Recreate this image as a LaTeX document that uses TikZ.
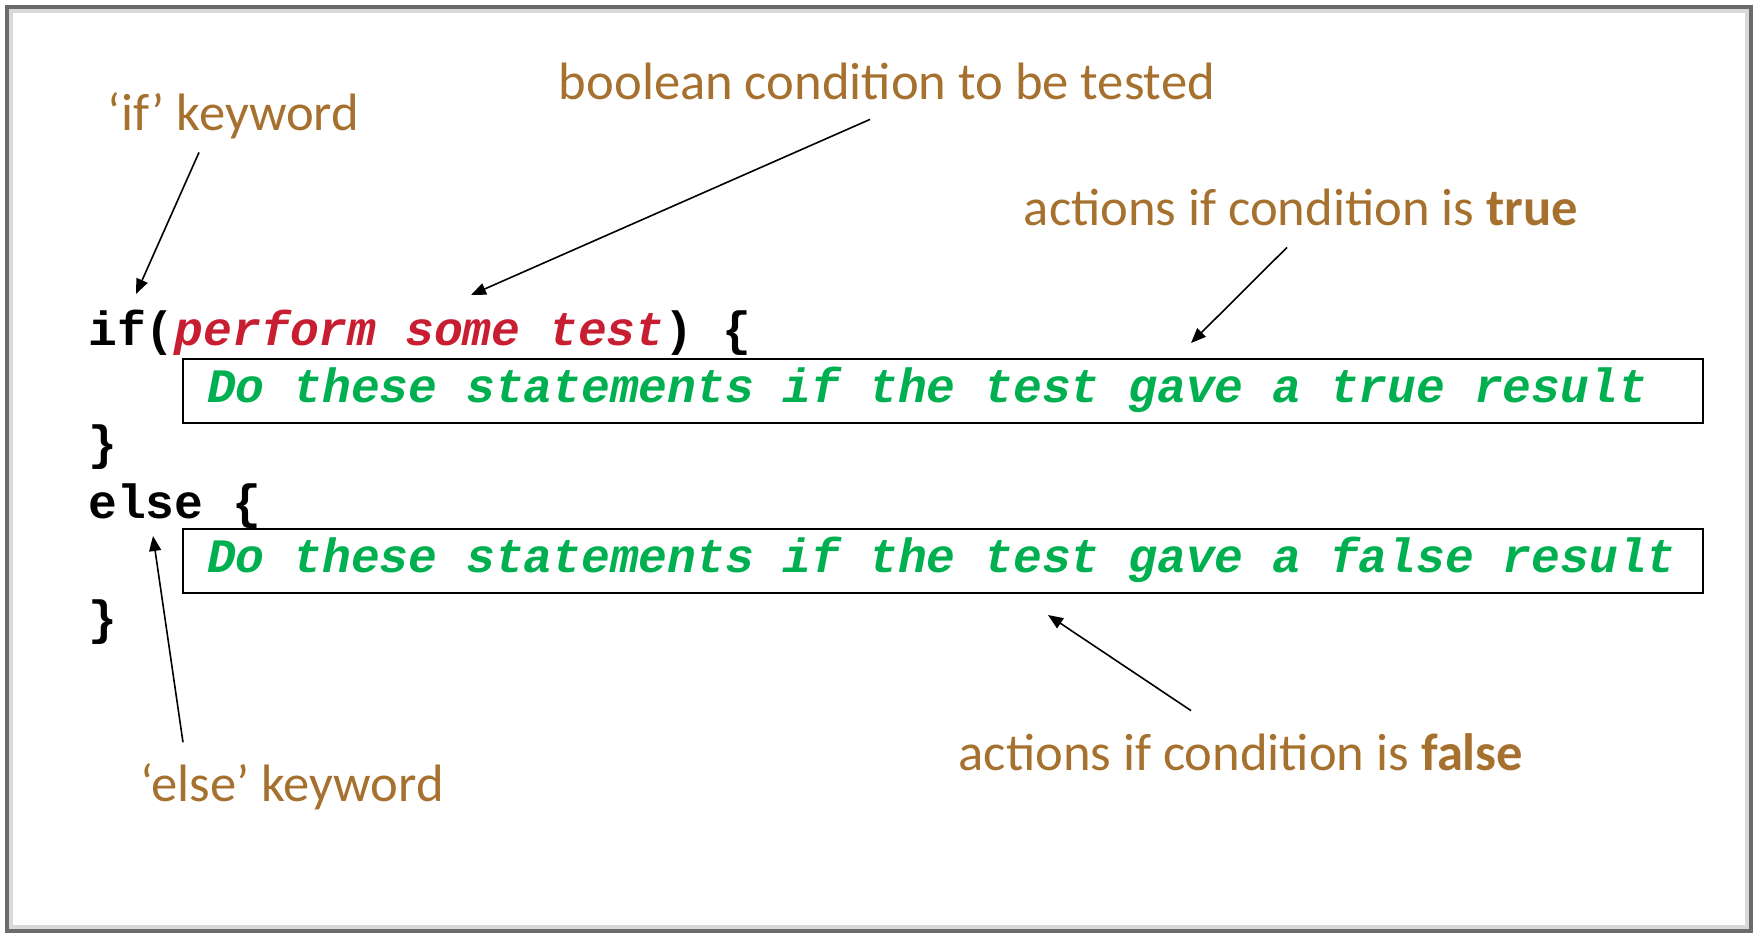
\documentclass[tikz,border=0pt]{standalone}
\usepackage{fontspec}
\usetikzlibrary{arrows.meta}
\newfontfamily\lblfont{Carlito}
\newfontfamily\srcfont{Liberation Mono}
\definecolor{Kw}{HTML}{A6712F}
\definecolor{Cond}{HTML}{C81E32}
\definecolor{Stmt}{HTML}{00B050}
\definecolor{Edge}{HTML}{6B6B6B}
\definecolor{Shade}{HTML}{D9D9D9}
\newcommand{\stmtline}[1]{\makebox[736pt][l]{#1}}
\tikzset{
  lbl/.style={text=Kw, font=\lblfont\fontsize{26.3}{30}\selectfont, inner sep=0pt, text height=20pt, text depth=6pt, anchor=base},
  src/.style={font=\srcfont\bfseries\fontsize{24}{28}\selectfont, inner sep=0pt, anchor=base west},
  stmtbox/.style={draw, line width=1pt, outer sep=0pt, inner xsep=12pt, inner ysep=0pt,
    text height=21.5pt, text depth=10.5pt, anchor=north west, text=Stmt, font=\srcfont\bfseries\itshape\fontsize{24}{28}\selectfont},
  pointer/.style={-{Triangle[length=7.5pt,width=6pt]}, line width=0.8pt},
}

\begin{document}
\begin{tikzpicture}[x=0.5pt,y=-0.5pt]
  \useasboundingbox (0,0) rectangle (1758,933);
  \draw[Shade, line width=2pt] (11,11) rectangle (1747,927);
  \draw[Edge, line width=2pt] (7,7) rectangle (1751,931);
  \node[src] (ifln) at (88,345) {if(\textcolor{Cond}{\itshape perform some test}) \{};
  \node[stmtbox] (truebox) at (183,359) {\stmtline{Do these statements if the test gave a true result}};
  \node[src] (closeif) at (88,459) {\}};
  \node[src] (elseln) at (88,518) {else \{};
  \node[stmtbox] (falsebox) at (183,529) {\stmtline{Do these statements if the test gave a false result}};
  \node[src] (closeelse) at (88,634) {\}};
  \node[lbl] (ifkw) at (233.5,130) {‘if’ keyword};
  \node[lbl] (condkw) at (887,99) {boolean condition to be tested};
  \node[lbl] (truekw) at (1301,225) {actions if condition is \textbf{true}};
  \node[lbl] (falsekw) at (1241,770) {actions if condition is \textbf{false}};
  \node[lbl] (elsekw) at (292,801.7) {‘else’ keyword};
  \coordinate (iftip) at (136,294);
  \coordinate (condtip) at (471,295);
  \coordinate (truetip) at (1191,343);
  \coordinate (falsetip) at (1048,615);
  \coordinate (elsetip) at (153,536);
  \draw[pointer] ([shift={(-34.5,10)}]ifkw.south) -- (iftip);
  \draw[pointer] ([shift={(-17,8)}]condkw.south) -- (condtip);
  \draw[pointer] ([shift={(-14,10)}]truekw.south) -- (truetip);
  \draw[pointer] ([shift={(-50,-19)}]falsekw.north) -- (falsetip);
  \draw[pointer] ([shift={(-109,-19)}]elsekw.north) -- (elsetip);
\end{tikzpicture}
\end{document}
